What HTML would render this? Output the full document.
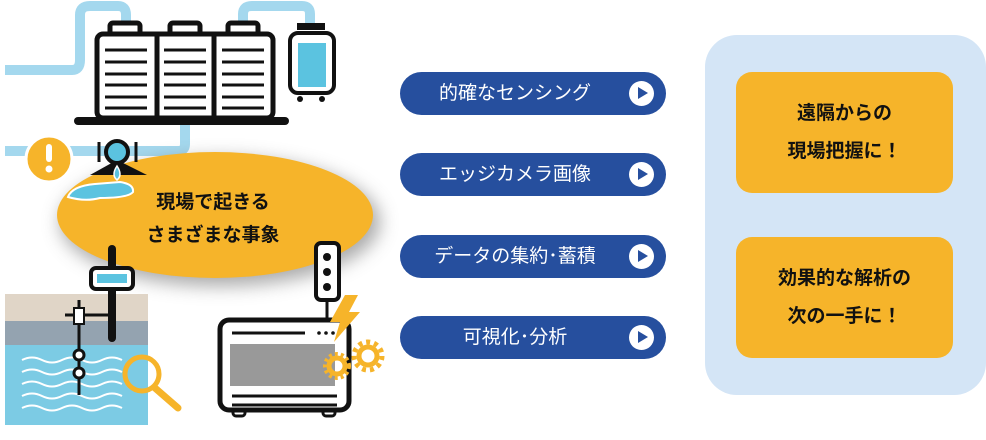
<!DOCTYPE html>
<html><head><meta charset="utf-8"><style>
body{margin:0;background:#fff;width:986px;height:440px;overflow:hidden;position:relative;font-family:"Liberation Sans","Noto Sans CJK JP",sans-serif}
.pill{position:absolute;left:400px;width:266px;height:43px;border-radius:22px;background:#264f9e;color:#fff;font-size:19px;line-height:43px}
.pill span{position:absolute;left:0;width:230px;text-align:center}
.pill i{position:absolute;right:12px;top:9px;width:25px;height:25px;border-radius:50%;background:#fff}
.pill i:after{content:"";position:absolute;left:9px;top:6px;border-left:10px solid #264f9e;border-top:6.5px solid transparent;border-bottom:6.5px solid transparent}
.panel{position:absolute;left:705px;top:35px;width:281px;height:360px;background:#d4e5f6;border-radius:32px}
.ob{position:absolute;left:736px;width:217px;height:121px;background:#f6b42a;border-radius:16px;display:flex;align-items:center;justify-content:center;text-align:center;font-weight:bold;font-size:19px;line-height:38px;color:#111}
</style></head><body>
<svg width="400" height="440" style="position:absolute;left:0;top:0">
<defs><filter id="sh" x="-30%" y="-30%" width="160%" height="160%"><feGaussianBlur stdDeviation="9"/></filter></defs>
<g fill="none" stroke="#a4d8ee" stroke-width="10" stroke-linejoin="round">
<path d="M5 70H72Q80 70 80 60V15Q80 6 90 6H118Q126 6 126 15V24"/>
<path d="M243 24V14Q243 6 252 6H302Q310 6 310 14V24"/>
<path d="M5 151H178Q185 151 185 144V124"/>
</g>
<ellipse cx="220" cy="222" rx="160" ry="64" fill="#555" opacity=".5" filter="url(#sh)"/>
<ellipse cx="215" cy="215" rx="158" ry="63" fill="#f6b42a"/>
<text x="213" y="208" font-size="19" font-weight="bold" text-anchor="middle" fill="#111">現場で起きる</text>
<text x="213" y="241" font-size="19" font-weight="bold" text-anchor="middle" fill="#111">さまざまな事象</text>
<!-- building -->
<g stroke="#111" stroke-width="5" fill="#fff">
<rect x="110" y="23" width="30" height="12" rx="3"/><rect x="170" y="23" width="30" height="12" rx="3"/><rect x="228" y="23" width="30" height="12" rx="3"/>
<rect x="97" y="34" width="176" height="84" rx="6"/>
<path d="M157 34V118M214 34V118"/>
</g>
<g stroke="#111" stroke-width="3">
<path d="M105 50H147M105 62H147M105 74H147M105 85H147M105 97H147M105 108H147"/>
<path d="M164 50H206M164 62H206M164 74H206M164 85H206M164 97H206M164 108H206"/>
<path d="M222 50H264M222 62H264M222 74H264M222 85H264M222 97H264M222 108H264"/>
</g>
<rect x="74" y="117" width="215" height="8" rx="4" fill="#111"/>
<!-- tank -->
<rect x="297" y="23" width="28" height="7" fill="#111"/>
<rect x="290" y="33" width="44" height="60" rx="8" fill="#fff" stroke="#111" stroke-width="4"/>
<rect x="298" y="43" width="28" height="44" fill="#5bc3e0"/>
<circle cx="300" cy="99" r="3" fill="#111"/><circle cx="322" cy="99" r="3" fill="#111"/>
<!-- warning -->
<circle cx="49" cy="159" r="23" fill="#f6b42a" stroke="#fff" stroke-width="3"/>
<rect x="46" y="144" width="6" height="18" rx="3" fill="#fff"/><circle cx="49" cy="169" r="3.5" fill="#fff"/>
<!-- valve -->
<path d="M68 197Q72 186 95 184L120 182Q134 184 133 192Q128 198 100 198Q85 202 68 197Z" fill="#5bc3e0" stroke="#fff" stroke-width="2"/>
<path d="M90 175L117 160L147 175Z" fill="#111"/>
<circle cx="117" cy="152" r="11" fill="#5bc3e0" stroke="#111" stroke-width="4"/>
<path d="M99 142V162M136 142V162" stroke="#111" stroke-width="3"/>
<path d="M117 166Q123 175 117 180Q111 175 117 166Z" fill="#5bc3e0" stroke="#fff" stroke-width="1.5"/>
<!-- water -->
<rect x="5" y="294" width="143" height="27" fill="#e0d5c7"/>
<rect x="5" y="321" width="143" height="24" fill="#94a3b0"/>
<rect x="5" y="345" width="143" height="80" fill="#7ccbe4"/>
<g stroke="#fff" stroke-width="2" fill="none">
<path d="M22 360q10-5 20 0t20 0 20 0 20 0 20 0"/><path d="M22 372q10-5 20 0t20 0 20 0 20 0 20 0"/><path d="M22 384q10-5 20 0t20 0 20 0 20 0 20 0"/><path d="M22 396q10-5 20 0t20 0 20 0 20 0 20 0"/><path d="M22 408q10-5 20 0t20 0 20 0 20 0 20 0"/>
</g>
<path d="M112 249V338" stroke="#111" stroke-width="8" stroke-linecap="round"/>
<rect x="91" y="268" width="42" height="21" rx="5" fill="#fff" stroke="#111" stroke-width="4"/>
<rect x="97" y="274" width="30" height="9" fill="#5bc3e0"/>
<path d="M79 300V395M65 315H112" stroke="#111" stroke-width="3"/>
<rect x="74" y="308" width="10" height="16" fill="#fff" stroke="#111" stroke-width="2"/>
<circle cx="79" cy="355" r="5" fill="#fff" stroke="#111" stroke-width="3"/><circle cx="79" cy="373" r="5" fill="#fff" stroke="#111" stroke-width="3"/>
<circle cx="142" cy="374" r="17" fill="none" stroke="#f6b42a" stroke-width="5"/>
<path d="M155 388L178 408" stroke="#f6b42a" stroke-width="7" stroke-linecap="round"/>
<!-- machine -->
<rect x="316" y="243" width="23" height="57" rx="5" fill="#fff" stroke="#111" stroke-width="4"/>
<circle cx="327" cy="257" r="4" fill="#111"/><circle cx="327" cy="272" r="4" fill="#111"/><circle cx="327" cy="287" r="4" fill="#111"/>
<path d="M327 300V320" stroke="#111" stroke-width="3"/>
<rect x="233" y="408" width="12" height="8" rx="3" fill="#fff" stroke="#111" stroke-width="3"/><rect x="323" y="408" width="12" height="8" rx="3" fill="#fff" stroke="#111" stroke-width="3"/>
<rect x="220" y="320" width="129" height="90" rx="9" fill="#fff" stroke="#111" stroke-width="5"/>
<path d="M232 333H305M232 396H337M232 405H337" stroke="#111" stroke-width="3"/>
<circle cx="319" cy="333" r="1.8" fill="#111"/><circle cx="326" cy="333" r="1.8" fill="#111"/><circle cx="333" cy="333" r="1.8" fill="#111"/>
<rect x="230" y="344" width="105" height="42" fill="#999"/>
<path d="M345 295L330 322H340L334 342L360 312H349L358 295Z" fill="#f6b42a"/>
<g fill="none" stroke="#f6b42a">
<circle cx="337" cy="366" r="8" stroke-width="5"/><circle cx="337" cy="366" r="12" stroke-width="4" stroke-dasharray="3 3"/>
<circle cx="368" cy="356" r="9" stroke-width="5"/><circle cx="368" cy="356" r="14" stroke-width="5" stroke-dasharray="4 4"/>
</g>
</svg>
<div class="pill" style="top:72px"><span>的確なセンシング</span><i></i></div>
<div class="pill" style="top:153px"><span>エッジカメラ画像</span><i></i></div>
<div class="pill" style="top:235px"><span>データの集約･蓄積</span><i></i></div>
<div class="pill" style="top:316px"><span>可視化･分析</span><i></i></div>
<div class="panel"></div>
<div class="ob" style="top:72px">遠隔からの<br>現場把握に！</div>
<div class="ob" style="top:237px">効果的な解析の<br>次の一手に！</div>
</body></html>
